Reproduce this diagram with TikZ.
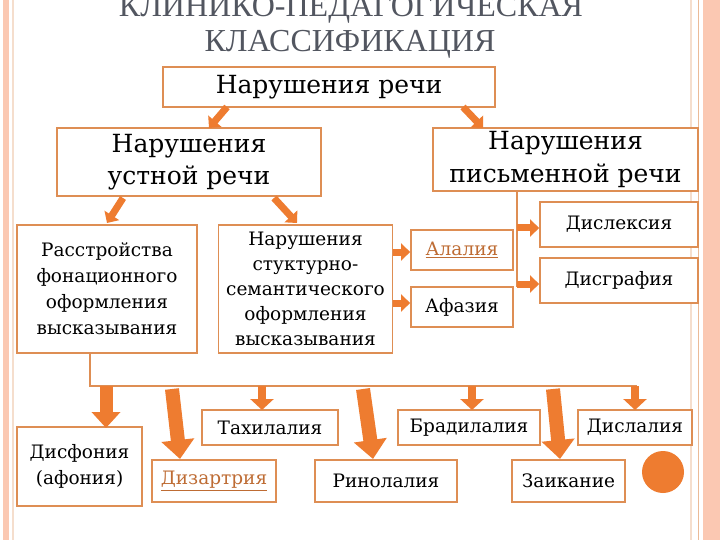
\documentclass[tikz,border=0pt]{standalone}
\usepackage{fontspec}
\setmainfont{DejaVu Serif}
\newfontfamily\titlefont{Liberation Serif}
\usetikzlibrary{arrows.meta}
\definecolor{boxc}{RGB}{222,142,84}
\definecolor{arrc}{RGB}{238,124,48}
\definecolor{titlec}{RGB}{82,86,96}
\definecolor{linkc}{RGB}{190,108,52}
\definecolor{pinkc}{RGB}{251,200,178}
\definecolor{palec}{RGB}{245,222,205}
\tikzset{
  x=1pt, y=-1pt,
  box/.style={draw=boxc, line width=1.8pt, fill=white, inner sep=0pt, align=center},
  conn/.style={draw=boxc, line width=1.8pt},
  bigarr/.style={draw=arrc, line width=14pt, -{Triangle[length=19pt,width=32pt]}},
  midarr/.style={draw=arrc, line width=13pt, -{Triangle[length=16pt,width=28pt]}},
  smallarr/.style={draw=arrc, line width=8pt, -{Triangle[length=11pt,width=23pt]}},
  tinyarr/.style={draw=arrc, line width=7pt, -{Triangle[length=9pt,width=17pt]}},
  fbig/.style={font=\fontsize{25}{32.5}\selectfont},
  fsmall/.style={font=\fontsize{18.5}{26}\selectfont},
}
\begin{document}
\begin{tikzpicture}
\useasboundingbox (0,0) rectangle (720,540);
\fill[white] (0,0) rectangle (720,540);
% frame
\fill[pinkc] (3,0) rectangle (9,540);
\draw[palec, line width=1.5pt] (13,0) -- (13,540);
\draw[palec, line width=2pt] (691,0) -- (691,540);
\draw[boxc!60, line width=1pt] (698,0) -- (698,540);
\fill[pinkc] (703,0) rectangle (720,540);
% title
\node[anchor=base, text=titlec, font=\titlefont\fontsize{32}{36}\selectfont, inner sep=0pt] (t1) at (351,17) {КЛИНИКО-ПЕДАГОГИЧЕСКАЯ};
\node[anchor=base, text=titlec, font=\titlefont\fontsize{32}{36}\selectfont, inner sep=0pt] (t2) at (350,52) {КЛАССИФИКАЦИЯ};
% boxes
\node[box, fbig, minimum width=332pt, minimum height=40pt] (A) at (329,87) {Нарушения речи};
\node[box, fbig, minimum width=264pt, minimum height=68pt] (B) at (189,162) {Нарушения\\устной речи};
\node[box, fbig, minimum width=265pt, minimum height=63pt] (C) at (565.5,159.5) {Нарушения\\письменной речи};
\node[box, fsmall, minimum width=180pt, minimum height=128pt] (D) at (107,289) {Расстройства\\фонационного\\оформления\\высказывания};
\node[box, fsmall, minimum width=174pt, minimum height=128pt, font=\fontsize{18.5}{25}\selectfont] (E) at (305.5,289) {Нарушения\\стуктурно-\\семантического\\оформления\\высказывания};
\node[box, fsmall, minimum width=102pt, minimum height=40pt, text=linkc] (F) at (462,250) {\underline{Алалия}};
\node[box, fsmall, minimum width=102pt, minimum height=40pt] (G) at (462,307) {Афазия};
\node[box, fsmall, minimum width=158pt, minimum height=45pt] (H) at (619,224.5) {Дислексия};
\node[box, fsmall, minimum width=158pt, minimum height=45pt] (I) at (619,280.5) {Дисграфия};
\node[box, fsmall, minimum width=125pt, minimum height=79pt] (J) at (79.5,466.5) {Дисфония\\(афония)};
\node[box, fsmall, minimum width=124pt, minimum height=42pt, text=linkc] (K) at (214,481) {\underline{Дизартрия}};
\node[box, fsmall, minimum width=136pt, minimum height=35pt] (L) at (270,427.5) {Тахилалия};
\node[box, fsmall, minimum width=142pt, minimum height=42pt] (M) at (386,481) {Ринолалия};
\node[box, fsmall, minimum width=142pt, minimum height=35pt] (N) at (469,427.5) {Брадилалия};
\node[box, fsmall, minimum width=113pt, minimum height=42pt] (O) at (568.5,481) {Заикание};
\node[box, fsmall, minimum width=114pt, minimum height=35pt] (P) at (635,427.5) {Дислалия};
\fill[arrc] (663,472) circle (21);
% connector lines
\coordinate (hl) at (90,386);
\coordinate (hr) at (637,386);
\draw[conn] (hl |- D.south) -- (hl) -- (hr);
\coordinate (vb) at (517,287);
\draw[conn] (vb |- C.south) -- (vb);
% top arrows
\draw[tinyarr] (227,107) -- (209,128);
\draw[tinyarr] (463,107) -- (483,128);
\draw[tinyarr] (123,198) -- (107,223);
\draw[tinyarr] (274,198) -- (297,223);
% side arrows
\draw[tinyarr] (E.east |- 0,252) -- (F.west |- 0,252);
\draw[tinyarr] (E.east |- 0,303) -- (G.west |- 0,303);
\draw[tinyarr] (vb |- 0,228) -- (H.west |- 0,228);
\draw[tinyarr] (vb |- 0,284) -- (I.west |- 0,284);
% bottom arrows
\draw[midarr] (106,386) -- (106,428);
\draw[bigarr] (172,389) -- (180,459);
\draw[smallarr] (262,386) -- (262,410);
\draw[bigarr] (363,389) -- (373,459);
\draw[smallarr] (472,386) -- (472,410);
\draw[bigarr] (553,389) -- (560,459);
\draw[smallarr] (635,386) -- (635,410);
\end{tikzpicture}
\end{document}
